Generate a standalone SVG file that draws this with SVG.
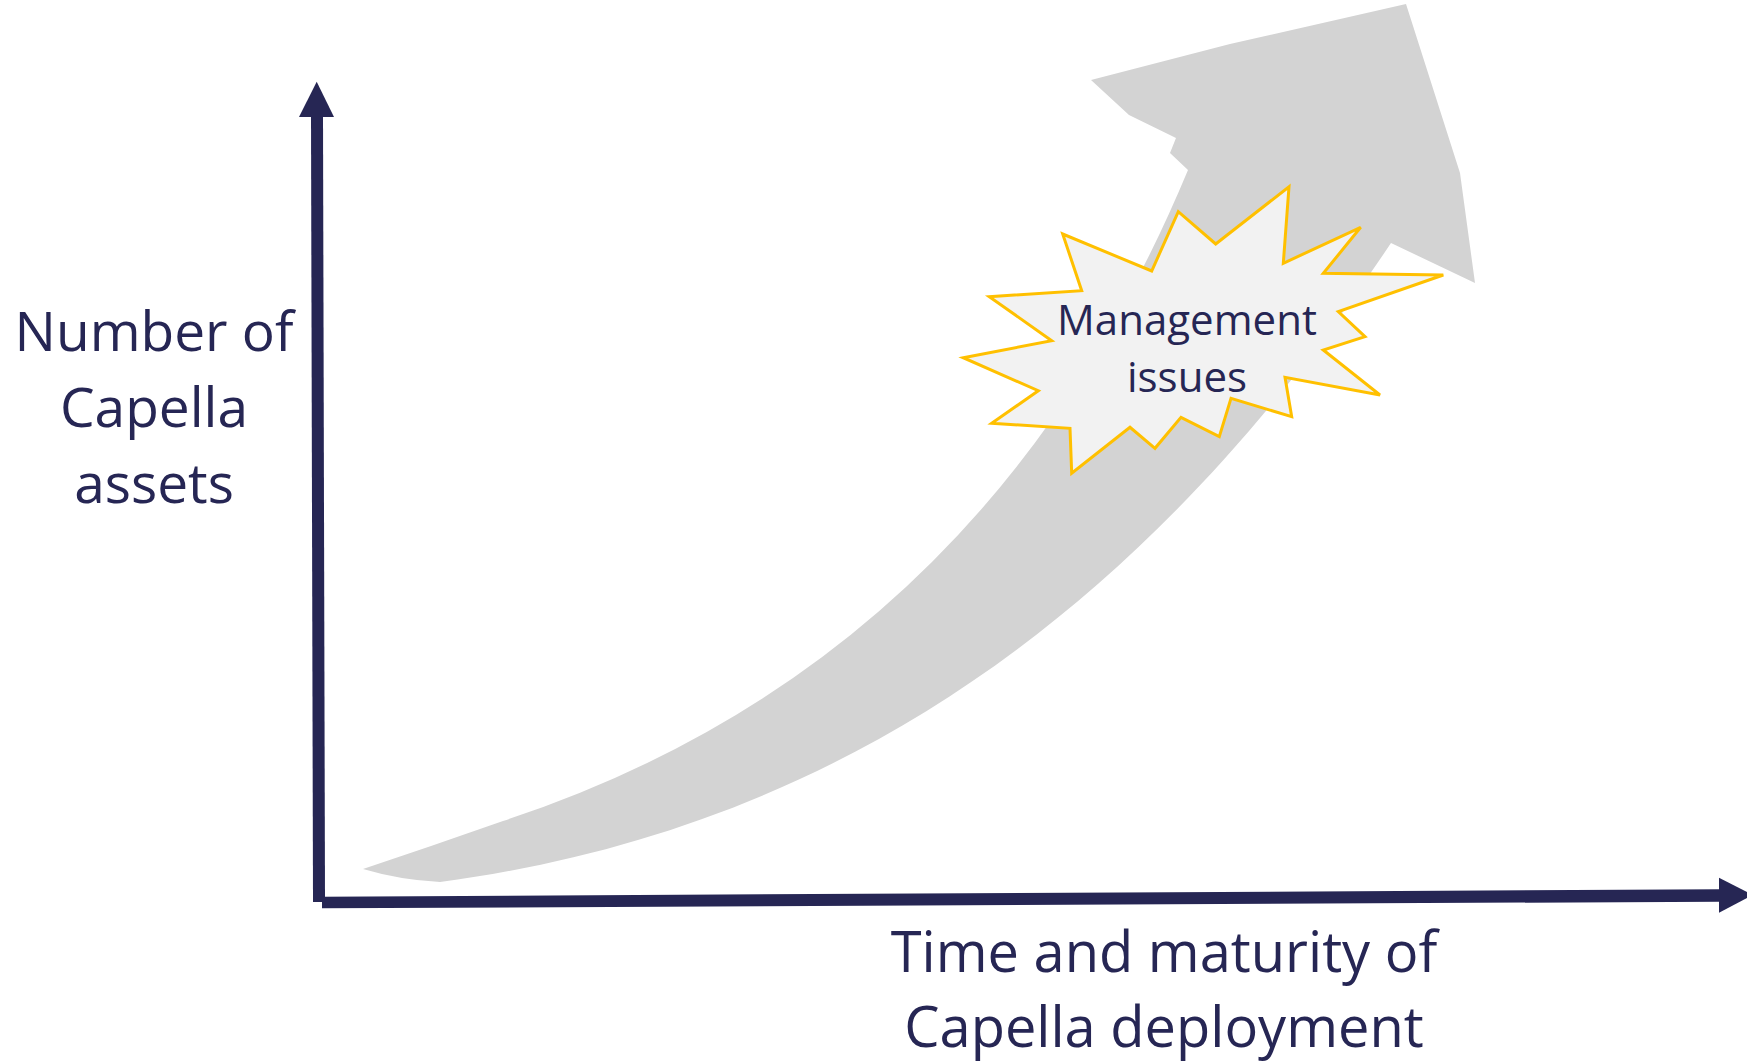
<svg xmlns="http://www.w3.org/2000/svg" width="1747" height="1063" viewBox="0 0 1747 1063">
  <style>
    .lbl { font-family: "Open Sans", "Noto Sans", sans-serif; fill: #262654; text-anchor: middle; }
    .axis { fill: #262654; }
  </style>
  <rect x="0" y="0" width="1747" height="1063" fill="#ffffff"/>
  <g id="growth-arrow">
    <path fill="#d3d3d3" d="M 1391 243 C 1120 649.5 800 833.8 440 882 Q 400 880 363 869 Q 432 846 503 821 Q 983 663 1188 170 L 1170 153 L 1176 138 L 1129 115 L 1091 80 L 1230 44 L 1406 4 L 1460 173 L 1475 283 Z"/>
  </g>
  <g id="connectors">
    <g id="y-axis">
      <polygon class="axis" points="313,902 325,902 323,116 311,116"/>
      <polygon class="axis" points="316.7,81.7 334,117 299,117"/>
    </g>
    <g id="x-axis">
      <polygon class="axis" points="322,896.7 322,908.3 1720,901.7 1720,889.3"/>
      <polygon class="axis" points="1719,877.7 1753,895 1719,912.7"/>
    </g>
  </g>
  <g id="management-issues">
    <polygon fill="#f2f2f2" stroke="#ffc000" stroke-width="3" stroke-linejoin="miter" points="963.3,357.7 1051.7,340.7 989.3,296.7 1081.7,290.7 1062.7,234 1151.7,271 1178.3,211.7 1215.7,244 1289,186.7 1283.3,263.3 1360.7,227.3 1323.3,273.3 1443.3,275 1338.3,311.7 1365,336.7 1323.3,350 1380,395 1285,377.3 1291.7,416.7 1231,398.3 1219.3,436.7 1181,417.3 1155,448.3 1130,427.3 1071.7,473.3 1070,428.3 991.7,423.3 1038.3,390.7"/>
    <text class="lbl" x="1187" y="335" font-size="42">Management</text>
    <text class="lbl" x="1187" y="392" font-size="42">issues</text>
  </g>
  <g id="y-label">
    <text class="lbl" x="154" y="351" font-size="55">Number of</text>
    <text class="lbl" x="154" y="427" font-size="55">Capella</text>
    <text class="lbl" x="154" y="503" font-size="55">assets</text>
  </g>
  <g id="x-label">
    <text class="lbl" x="1164" y="972" font-size="56">Time and maturity of</text>
    <text class="lbl" x="1164" y="1047" font-size="56">Capella deployment</text>
  </g>
</svg>
